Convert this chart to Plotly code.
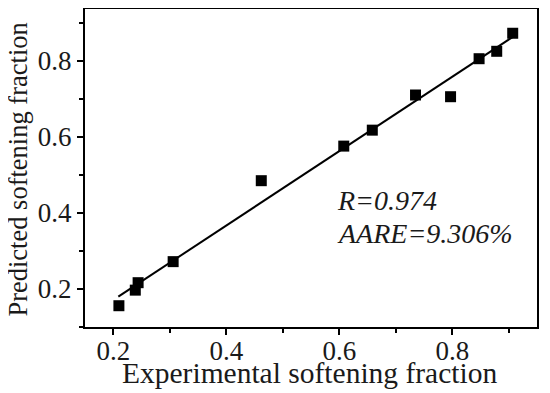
import plotly.graph_objects as go

# Data
exp_vals = [0.210, 0.239, 0.244, 0.306, 0.462, 0.608, 0.6585, 0.735, 0.797, 0.8475, 0.8787, 0.907]
pred_vals = [0.156, 0.197, 0.2166, 0.272, 0.485, 0.576, 0.618, 0.7105, 0.706, 0.806, 0.8255, 0.873]
fit_x = [0.209, 0.908]
fit_y = [0.180, 0.864]
tick_vals = [0.2, 0.4, 0.6, 0.8]
tick_text = ["0.2", "0.4", "0.6", "0.8"]
stat_lines = ["R=0.974", "AARE=9.306%"]
x_title = "Experimental softening fraction"
y_title = "Predicted softening fraction"

FONT = "Liberation Serif"
TXT = "#1a1a1a"

fig = go.Figure()
fig.add_trace(go.Scatter(x=fit_x, y=fit_y, mode="lines",
                         line=dict(color="black", width=2), showlegend=False))
fig.add_trace(go.Scatter(x=exp_vals, y=pred_vals, mode="markers",
                         marker=dict(symbol="square", size=11, color="black"),
                         showlegend=False))

fig.add_annotation(x=0.592, y=0.432, xref="x", yref="y", text="<i>%s</i>" % stat_lines[0],
                   showarrow=False, xanchor="left", yanchor="middle",
                   font=dict(family=FONT, size=28, color=TXT))
fig.add_annotation(x=0.592, y=0.345, xref="x", yref="y", text="<i>%s</i>" % stat_lines[1],
                   showarrow=False, xanchor="left", yanchor="middle",
                   font=dict(family=FONT, size=28, color=TXT))

# axis titles as annotations for exact placement
fig.add_annotation(x=0.4967, y=-0.1431, xref="paper", yref="paper", text=x_title,
                   showarrow=False, xanchor="center", yanchor="middle", borderpad=0,
                   font=dict(family=FONT, size=29.5, color=TXT))
fig.add_annotation(x=-0.148, y=0.4953, xref="paper", yref="paper", text=y_title,
                   showarrow=False, xanchor="center", yanchor="middle", textangle=-90,
                   borderpad=0,
                   font=dict(family=FONT, size=26.5, color=TXT))

axis_common = dict(
    showgrid=False, zeroline=False, automargin=False,
    showline=True, linecolor="black", linewidth=2, mirror=True,
    ticks="outside", ticklen=6, tickwidth=1.5, tickcolor="black",
    tickvals=tick_vals, ticktext=tick_text,
    tickfont=dict(family=FONT, size=27, color=TXT),
    minor=dict(ticks="outside", ticklen=4, tickwidth=1.5, tickcolor="black", dtick=0.1, tick0=0.1),
)

fig.update_xaxes(range=[0.15, 0.95], ticklabelstandoff=-7, **axis_common)
fig.update_yaxes(range=[0.1, 0.9368], **axis_common)

# the page keeps the browser's 8px body margin, so the figure is sized to the visible area
fig.update_layout(width=542, height=385,
                  margin=dict(l=77, r=13, t=1, b=66, autoexpand=False),
                  paper_bgcolor="white", plot_bgcolor="white")

fig.write_html("out.html", config={"displayModeBar": False})
